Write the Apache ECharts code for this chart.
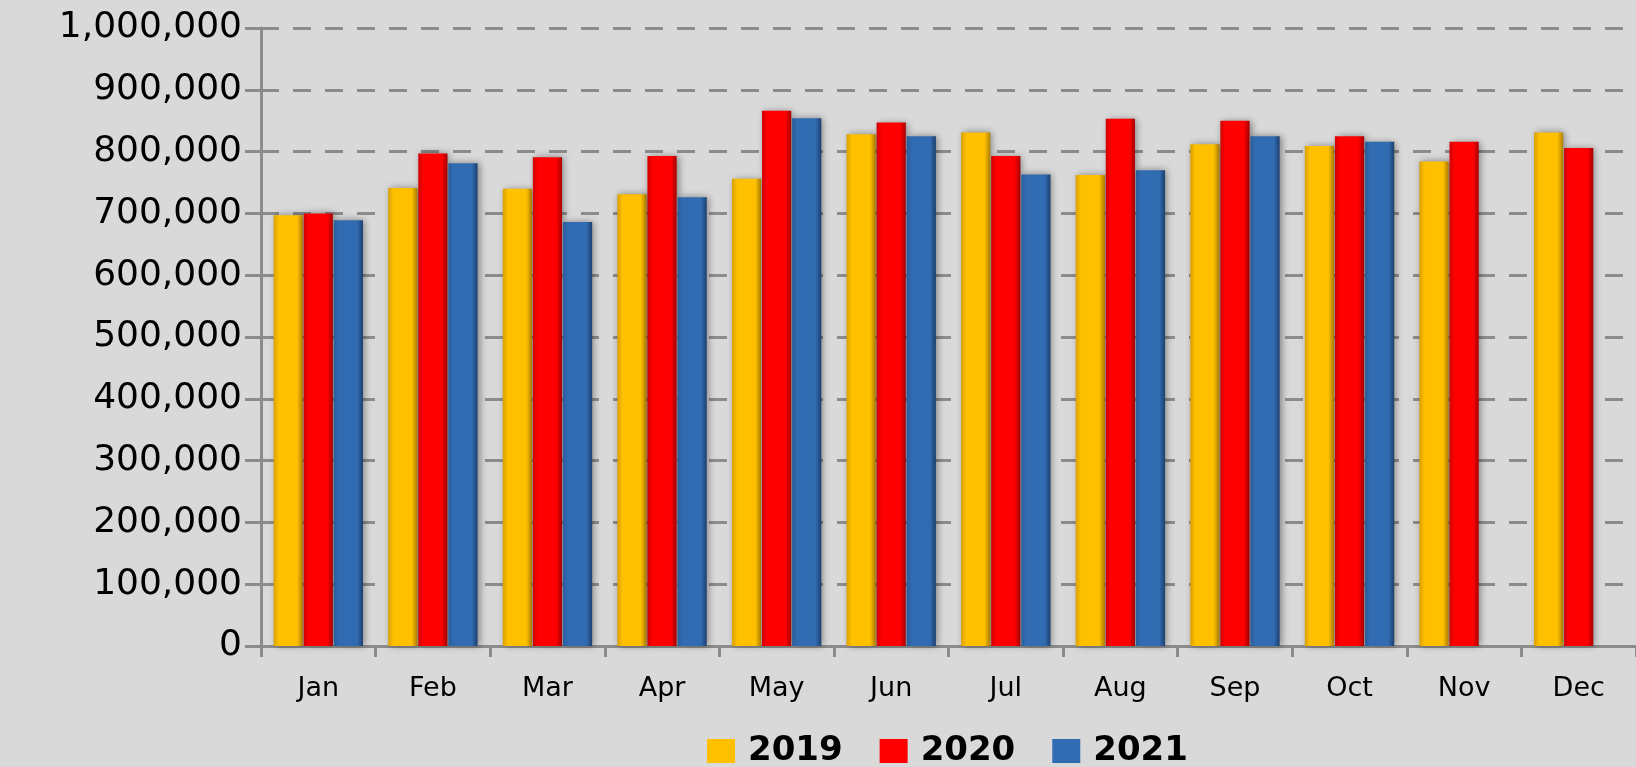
<!DOCTYPE html>
<html>
<head>
<meta charset="utf-8">
<script src="https://cdn.jsdelivr.net/npm/echarts@6/dist/echarts.min.js"></script>
<style>
html,body{margin:0;padding:0;background:#d9d9d9;}
#chart{width:1636px;height:767px;}
</style>
</head>
<body>
<div id="chart"></div>
<script>
var months = ['Jan','Feb','Mar','Apr','May','Jun','Jul','Aug','Sep','Oct','Nov','Dec'];
var years = ['2019','2020','2021'];
var values2019 = [697000, 741000, 740000, 731000, 756000, 828000, 831000, 762000, 812000, 809000, 784000, 831000];
var values2020 = [700000, 797000, 791000, 793000, 866000, 847000, 793000, 853000, 850000, 825000, 816000, 806000];
var values2021 = [689000, 781000, 686000, 726000, 854000, 825000, 763000, 770000, 825000, 816000, null, null];
var yTicks = [0, 100000, 200000, 300000, 400000, 500000, 600000, 700000, 800000, 900000, 1000000];

function grad(edgeL, base, edgeR) {
  return new echarts.graphic.LinearGradient(0, 0, 1, 0, [
    {offset: 0, color: edgeL},
    {offset: 0.18, color: base},
    {offset: 0.8, color: base},
    {offset: 1, color: edgeR}
  ]);
}
var colors = [
  grad('#d9a000', '#ffc000', '#b08000'),
  grad('#d00000', '#ff0000', '#a80000'),
  grad('#2a5d9a', '#316cb2', '#1c3f6e')
];
var legendColors = ['#ffc000', '#ff0000', '#316cb2'];

var chart = echarts.init(document.getElementById('chart'));
var seriesData = [values2019, values2020, values2021];
var series = years.map(function (y, i) {
  return {
    name: y,
    type: 'bar',
    data: seriesData[i],
    barGap: '3%',
    barCategoryGap: '22%',
    itemStyle: {
      color: colors[i],
      shadowColor: 'rgba(0,0,0,0.4)',
      shadowBlur: 7,
      shadowOffsetX: 2
    }
  };
});

chart.setOption({
  backgroundColor: '#d9d9d9',
  animation: false,
  grid: {left: 261, right: -5, top: 28, bottom: 121, containLabel: false},
  legend: {
    data: years.map(function (y, i) { return {name: y, itemStyle: {color: legendColors[i]}}; }),
    left: 707,
    top: 734,
    icon: 'rect',
    itemWidth: 28,
    itemHeight: 24,
    itemGap: 37,
    padding: 0,
    textStyle: {fontFamily: 'DejaVu Sans', fontWeight: 'bold', fontSize: 34, color: '#000', padding: [0, 0, 0, 8]}
  },
  xAxis: {
    type: 'category',
    data: months,
    axisLine: {lineStyle: {color: '#8c8c8c', width: 3}},
    axisTick: {show: true, length: 11, lineStyle: {color: '#8c8c8c', width: 3}},
    axisLabel: {interval: 0, margin: 29, fontFamily: 'DejaVu Sans', fontSize: 27, color: '#000'}
  },
  yAxis: {
    type: 'value',
    min: yTicks[0],
    max: yTicks[yTicks.length - 1],
    interval: yTicks[1] - yTicks[0],
    axisLine: {show: true, lineStyle: {color: '#8c8c8c', width: 3}},
    axisTick: {show: true, length: 16, lineStyle: {color: '#8c8c8c', width: 3}},
    axisLabel: {
      margin: 19,
      fontFamily: 'DejaVu Sans',
      fontSize: 36,
      color: '#000',
      formatter: function (v) { return v.toLocaleString('en-US'); }
    },
    splitLine: {show: true, lineStyle: {color: '#8c8c8c', width: 3, type: [18, 14]}}
  },
  series: series
});
</script>
</body>
</html>
